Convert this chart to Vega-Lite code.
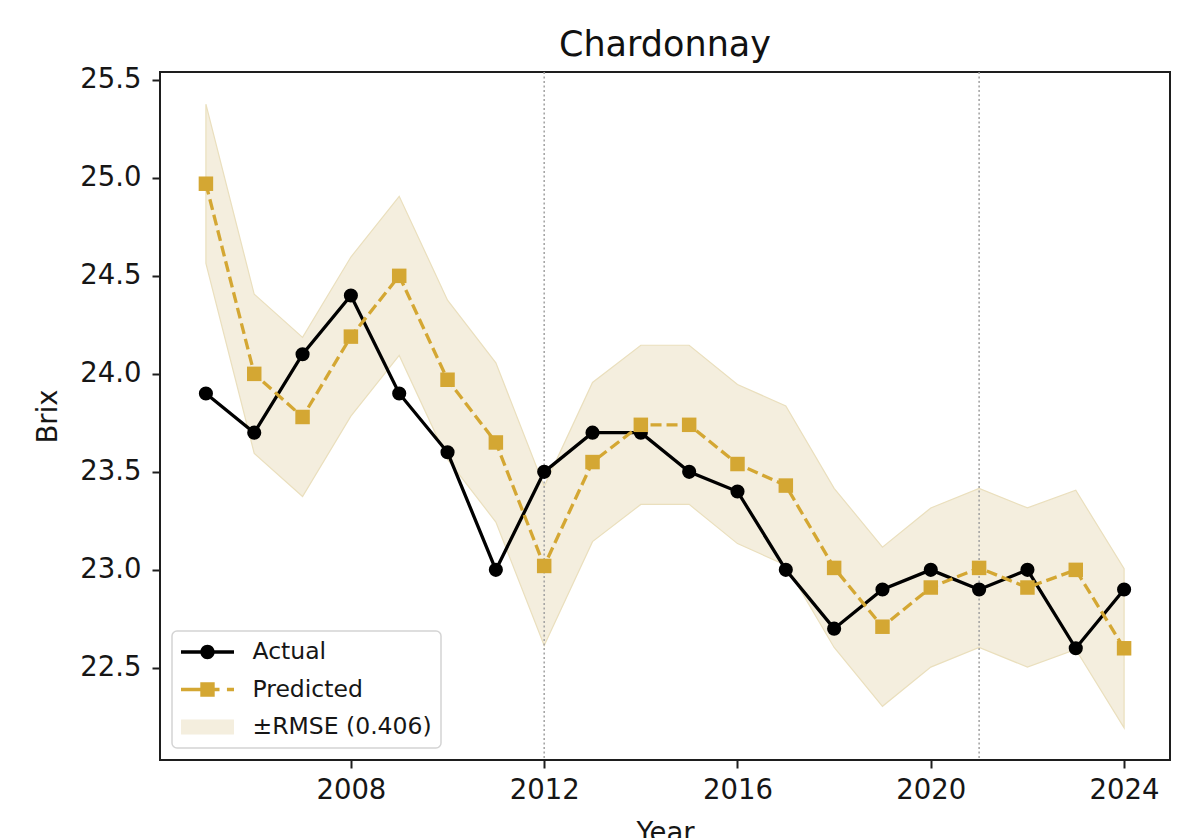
{
  "$schema": "https://vega.github.io/schema/vega-lite/v6.json",
  "autosize": {"type": "none"},
  "padding": {"left": 160, "top": 72, "right": 30, "bottom": 78},
  "width": 1010,
  "height": 688,
  "background": "white",
  "title": {"text": "Chardonnay", "fontSize": 35, "font": "DejaVu Sans", "fontWeight": "normal", "color": "#111111", "anchor": "middle", "offset": 3},
  "datasets": {
    "actual": [
      {"Year": 2005, "Brix": 23.9}, {"Year": 2006, "Brix": 23.7}, {"Year": 2007, "Brix": 24.1},
      {"Year": 2008, "Brix": 24.4}, {"Year": 2009, "Brix": 23.9}, {"Year": 2010, "Brix": 23.6},
      {"Year": 2011, "Brix": 23.0}, {"Year": 2012, "Brix": 23.5}, {"Year": 2013, "Brix": 23.7},
      {"Year": 2014, "Brix": 23.7}, {"Year": 2015, "Brix": 23.5}, {"Year": 2016, "Brix": 23.4},
      {"Year": 2017, "Brix": 23.0}, {"Year": 2018, "Brix": 22.7}, {"Year": 2019, "Brix": 22.9},
      {"Year": 2020, "Brix": 23.0}, {"Year": 2021, "Brix": 22.9}, {"Year": 2022, "Brix": 23.0},
      {"Year": 2023, "Brix": 22.6}, {"Year": 2024, "Brix": 22.9}
    ],
    "predicted": [
      {"Year": 2005, "Brix": 24.97}, {"Year": 2006, "Brix": 24.0}, {"Year": 2007, "Brix": 23.78},
      {"Year": 2008, "Brix": 24.19}, {"Year": 2009, "Brix": 24.5}, {"Year": 2010, "Brix": 23.97},
      {"Year": 2011, "Brix": 23.65}, {"Year": 2012, "Brix": 23.02}, {"Year": 2013, "Brix": 23.55},
      {"Year": 2014, "Brix": 23.74}, {"Year": 2015, "Brix": 23.74}, {"Year": 2016, "Brix": 23.54},
      {"Year": 2017, "Brix": 23.43}, {"Year": 2018, "Brix": 23.01}, {"Year": 2019, "Brix": 22.71},
      {"Year": 2020, "Brix": 22.91}, {"Year": 2021, "Brix": 23.01}, {"Year": 2022, "Brix": 22.91},
      {"Year": 2023, "Brix": 23.0}, {"Year": 2024, "Brix": 22.6}
    ],
    "band": [
      {"Year": 2005, "Lower": 24.564, "Upper": 25.376}, {"Year": 2006, "Lower": 23.594, "Upper": 24.406},
      {"Year": 2007, "Lower": 23.374, "Upper": 24.186}, {"Year": 2008, "Lower": 23.784, "Upper": 24.596},
      {"Year": 2009, "Lower": 24.094, "Upper": 24.906}, {"Year": 2010, "Lower": 23.564, "Upper": 24.376},
      {"Year": 2011, "Lower": 23.244, "Upper": 24.056}, {"Year": 2012, "Lower": 22.614, "Upper": 23.426},
      {"Year": 2013, "Lower": 23.144, "Upper": 23.956}, {"Year": 2014, "Lower": 23.334, "Upper": 24.146},
      {"Year": 2015, "Lower": 23.334, "Upper": 24.146}, {"Year": 2016, "Lower": 23.134, "Upper": 23.946},
      {"Year": 2017, "Lower": 23.024, "Upper": 23.836}, {"Year": 2018, "Lower": 22.604, "Upper": 23.416},
      {"Year": 2019, "Lower": 22.304, "Upper": 23.116}, {"Year": 2020, "Lower": 22.504, "Upper": 23.316},
      {"Year": 2021, "Lower": 22.604, "Upper": 23.416}, {"Year": 2022, "Lower": 22.504, "Upper": 23.316},
      {"Year": 2023, "Lower": 22.594, "Upper": 23.406}, {"Year": 2024, "Lower": 22.194, "Upper": 23.006}
    ],
    "splits": [{"Year": 2012}, {"Year": 2021}],
    "legend": [{"Series": "Actual"}, {"Series": "Predicted"}, {"Series": "±RMSE (0.406)"}]
  },
  "config": {
    "font": "DejaVu Sans",
    "view": {"stroke": "#1e1e1e", "strokeWidth": 2},
    "axis": {
      "domain": false, "grid": false,
      "tickColor": "#1e1e1e", "tickWidth": 2, "tickSize": 8,
      "labelFont": "DejaVu Sans", "labelFontSize": 27.5, "labelColor": "#161616",
      "titleFont": "DejaVu Sans", "titleFontSize": 27.5, "titleFontWeight": "normal", "titleColor": "#161616"
    },
    "legend": {
      "orient": "bottom-left", "offset": 12, "padding": 9,
      "fillColor": "white", "strokeColor": "#d4d4d4", "strokeWidth": 1.5, "cornerRadius": 5,
      "labelFont": "DejaVu Sans", "labelFontSize": 23.5, "labelColor": "#161616", "labelOffset": 33, "labelLimit": 500,
      "symbolSize": 576, "symbolOffset": 14.5, "symbolStrokeWidth": 0, "symbolOpacity": 1, "rowPadding": 13.5
    }
  },
  "encoding": {
    "x": {
      "field": "Year", "type": "quantitative",
      "scale": {"domain": [2004.05, 2024.95], "nice": false, "zero": false},
      "axis": {"values": [2008, 2012, 2016, 2020, 2024], "format": "d", "title": "Year", "labelPadding": 8, "titlePadding": 16, "labelFlush": false, "labelOverlap": false}
    }
  },
  "layer": [
    {
      "data": {"name": "band"},
      "mark": {"type": "area", "fill": "#F4EEDE", "stroke": "#EADFBD", "strokeWidth": 1.2},
      "encoding": {
        "y": {
          "field": "Lower", "type": "quantitative",
          "scale": {"domain": [22.03, 25.54], "nice": false, "zero": false},
          "axis": {"values": [22.5, 23, 23.5, 24, 24.5, 25, 25.5], "format": ".1f", "title": "Brix", "labelPadding": 11, "titlePadding": 17}
        },
        "y2": {"field": "Upper"}
      }
    },
    {
      "data": {"name": "splits"},
      "mark": {"type": "rule", "color": "#a0a0a0", "strokeWidth": 1.5, "strokeDash": [2, 2.5]},
      "encoding": {}
    },
    {
      "data": {"name": "actual"},
      "mark": {"type": "line", "color": "#000000", "strokeWidth": 3.3},
      "encoding": {
        "y": {"field": "Brix", "type": "quantitative", "scale": {"domain": [22.03, 25.54], "nice": false, "zero": false}, "axis": {"values": [22.5, 23, 23.5, 24, 24.5, 25, 25.5], "format": ".1f", "title": "Brix", "labelPadding": 11, "titlePadding": 17}}
      }
    },
    {
      "data": {"name": "actual"},
      "mark": {"type": "point", "filled": true, "shape": "circle", "size": 200, "color": "#000000", "opacity": 1},
      "encoding": {
        "y": {"field": "Brix", "type": "quantitative", "scale": {"domain": [22.03, 25.54], "nice": false, "zero": false}, "axis": {"values": [22.5, 23, 23.5, 24, 24.5, 25, 25.5], "format": ".1f", "title": "Brix", "labelPadding": 11, "titlePadding": 17}}
      }
    },
    {
      "data": {"name": "predicted"},
      "mark": {"type": "line", "color": "#D4A733", "strokeWidth": 3.3, "strokeDash": [11, 5]},
      "encoding": {
        "y": {"field": "Brix", "type": "quantitative", "scale": {"domain": [22.03, 25.54], "nice": false, "zero": false}, "axis": {"values": [22.5, 23, 23.5, 24, 24.5, 25, 25.5], "format": ".1f", "title": "Brix", "labelPadding": 11, "titlePadding": 17}}
      }
    },
    {
      "data": {"name": "predicted"},
      "mark": {"type": "point", "filled": true, "shape": "square", "size": 210, "color": "#D4A733", "opacity": 1},
      "encoding": {
        "y": {"field": "Brix", "type": "quantitative", "scale": {"domain": [22.03, 25.54], "nice": false, "zero": false}, "axis": {"values": [22.5, 23, 23.5, 24, 24.5, 25, 25.5], "format": ".1f", "title": "Brix", "labelPadding": 11, "titlePadding": 17}}
      }
    },
    {
      "data": {"name": "legend"},
      "mark": {"type": "point", "filled": true, "opacity": 0},
      "encoding": {
        "x": {"value": 0},
        "y": {"value": 0},
        "color": {
          "field": "Series", "type": "nominal",
          "scale": {"domain": ["Actual", "Predicted", "±RMSE (0.406)"], "range": ["#000000", "#D4A733", "#F4EEDE"]},
          "legend": {"title": null}
        },
        "shape": {
          "field": "Series", "type": "nominal",
          "scale": {"domain": ["Actual", "Predicted", "±RMSE (0.406)"], "range": [
            "M-2.208,-0.14H2.208V0.14H-2.208Z M0.6,0A0.6,0.6,0,1,1,-0.6,0A0.6,0.6,0,1,1,0.6,0Z",
            "M-2.208,-0.14H-0.3V0.14H-2.208Z M0.3,-0.14H1.0V0.14H0.3Z M1.62,-0.14H2.208V0.14H1.62Z M-0.6,-0.6H0.6V0.6H-0.6Z",
            "M-2.208,-0.625H2.208V0.625H-2.208Z"
          ]},
          "legend": {"title": null}
        }
      }
    }
  ]
}
